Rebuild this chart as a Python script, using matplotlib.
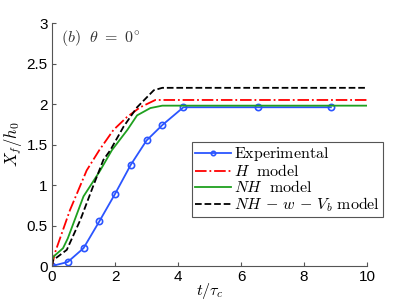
import matplotlib.pyplot as plt

plt.rcParams['mathtext.fontset'] = 'cm'
plt.rcParams['font.family'] = ['Liberation Sans', 'DejaVu Sans']

# Experimental
t_exp = [0, 0.5, 1.0, 1.5, 2.0, 2.5, 3.0, 3.5, 4.17, 6.53, 8.85]
x_exp = [0, 0.05, 0.22, 0.55, 0.89, 1.25, 1.55, 1.74, 1.96, 1.96, 1.96]

# H model
t_h = [0, 0.1, 0.57, 1.1, 1.5, 1.95, 2.38, 2.8, 3.28, 10]
x_h = [0, 0.17, 0.69, 1.18, 1.43, 1.68, 1.84, 1.96, 2.05, 2.05]

# NH model
t_nh = [0, 0.03, 0.35, 0.5, 1.0, 1.3, 1.53, 1.9, 2.39, 2.7, 3.12, 3.5, 10]
x_nh = [0, 0.11, 0.22, 0.34, 0.86, 1.04, 1.18, 1.43, 1.68, 1.86, 1.95, 1.98, 1.98]

# NH - w - Vb model
t_nhw = [0, 0.03, 0.47, 0.9, 1.3, 1.63, 1.85, 2.27, 2.7, 3.23, 3.5, 10]
x_nhw = [0, 0.07, 0.2, 0.57, 0.98, 1.31, 1.43, 1.72, 1.96, 2.17, 2.2, 2.2]

fig = plt.figure(figsize=(4.03, 3.03), dpi=100)
ax = fig.add_axes([0.129, 0.122, 0.782, 0.802])

ax.plot(t_exp, x_exp, '-o', color='#2b55ff', lw=1.3, ms=4.5, mfc='none', mew=1.2,
        label=r'$\mathrm{Experimental}$')
ax.plot(t_h, x_h, '-.', color='red', lw=1.3, label=r'$H\ \ \mathrm{model}$')
ax.plot(t_nh, x_nh, '-', color='#1fa01f', lw=1.3, label=r'$NH\ \ \mathrm{model}$')
ax.plot(t_nhw, x_nhw, '--', color='black', lw=1.3,
        label=r'$NH\,-\,w\,-\,V_b\ \mathrm{model}$')

ax.set_xlim(0, 10)
ax.set_ylim(0, 3)
ax.set_xticks([0, 2, 4, 6, 8, 10])
ax.set_yticks([0, 0.5, 1, 1.5, 2, 2.5, 3])
ax.set_yticklabels(['0', '0.5', '1', '1.5', '2', '2.5', '3'])
ax.tick_params(direction='in', labelsize=11, length=3, color='#555555', pad=3)
for s in ['top', 'right']:
    ax.spines[s].set_visible(False)
for s in ['left', 'bottom']:
    ax.spines[s].set_color('#555555')

ax.set_xlabel(r'$t/\tau_c$', fontsize=11.5, labelpad=-2.5)
ax.set_ylabel(r'$X_f/h_0$', fontsize=12, labelpad=2)
ax.text(0.03, 0.92, r'$(b)\ \ \theta\ =\ 0^{\circ}$', transform=ax.transAxes,
        fontsize=11.5, color='#333333')

leg = ax.legend(loc='upper left', bbox_to_anchor=(0.445, 0.51), fontsize=11.5,
                fancybox=False, framealpha=1, edgecolor='#555555',
                borderpad=0.2, labelspacing=0.0, handlelength=2.2,
                handletextpad=0.2, borderaxespad=0, markerscale=0.7)
leg.get_frame().set_linewidth(0.8)

fig.savefig('out.png', dpi=100)
